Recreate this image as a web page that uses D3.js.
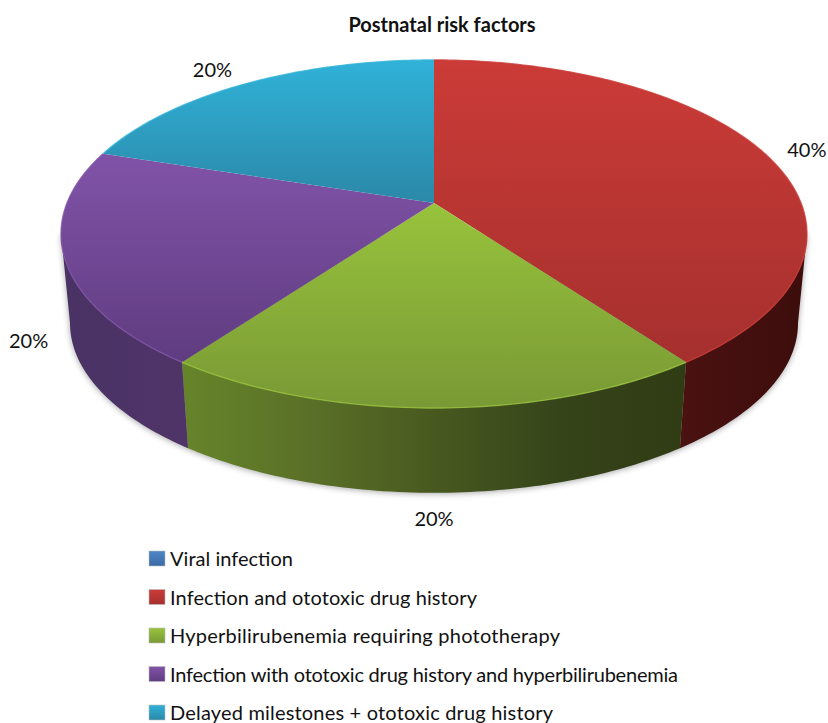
<!DOCTYPE html>
<html>
<head>
<meta charset="utf-8">
<script src="https://cdn.jsdelivr.net/npm/d3@7"></script>
<style>
  html, body { margin: 0; padding: 0; background: #fff; }
  text { font-family: Lato, "Open Sans", sans-serif; fill: #111; }
</style>
</head>
<body>
<svg id="chart" width="828" height="723"></svg>
<script>
const title = "Postnatal risk factors";
const categories = [
  "Viral infection",
  "Infection and ototoxic drug history",
  "Hyperbilirubenemia requiring phototherapy",
  "Infection with ototoxic drug history and hyperbilirubenemia",
  "Delayed milestones + ototoxic drug history"
];
const percents = [0, 40, 20, 20, 20];
const topColors = [["#4f86c6", "#3a6aa5"], ["#cb3b37", "#a5302e"], ["#98c33c", "#799935"], ["#8153a8", "#5f3c80"], ["#30b2d8", "#2b88a8"]];
const wallColors = [
  ["#2a4a75", "#1c3250"],
  ["#4a1211", "#3c0d0c"],
  ["#66852a", "#5a7027", "#48591f", "#36441a", "#303c14"],
  ["#4a3265", "#4f3468"],
  ["#1f7b98", "#1f7b98"]
];

const width = 828, height = 723;
const svg = d3.select("#chart");
const defs = svg.append("defs");

// pie is seen in perspective, so the centre sits above the middle of the ellipse
const cx = 434, cy = 234;
const persp = {a: 367, b: 174, c: -31, p: 0.178};
const bottom = {scale: 0.976, dy: 89};

function project(angle) {
  const u = Math.sin(angle), v = -Math.cos(angle);
  const w = 1 - persp.p * v;
  return [persp.a * u / w, (persp.b * v + persp.c) / w];
}
const topPoint = a => { const p = project(a); return [cx + p[0], cy + p[1]]; };
const lowPoint = a => { const p = project(a); return [cx + p[0] * bottom.scale, cy + bottom.dy + p[1] * bottom.scale]; };
const apex = [cx, cy + persp.c];

const line = d3.line();
const arcAngles = (a0, a1) => {
  const n = Math.max(2, Math.ceil((a1 - a0) * 60));
  return d3.range(n + 1).map(i => a0 + (a1 - a0) * i / n);
};

const pie = d3.pie().sort(null).value(d => d)(percents);

function linearGrad(id, colors, horizontal) {
  const g = defs.append("linearGradient").attr("id", id)
    .attr("x1", 0).attr("y1", 0)
    .attr("x2", horizontal ? 1 : 0).attr("y2", horizontal ? 0 : 1);
  colors.forEach((c, i) => g.append("stop").attr("offset", i / (colors.length - 1)).attr("stop-color", c));
}
categories.forEach((c, i) => {
  linearGrad("top" + i, topColors[i], false);
  linearGrad("wall" + i, wallColors[i], true);
});
defs.append("filter").attr("id", "soft").attr("x", "-10%").attr("y", "-10%").attr("width", "120%").attr("height", "120%")
  .append("feGaussianBlur").attr("stdDeviation", 3);
defs.append("filter").attr("id", "tiny").append("feGaussianBlur").attr("stdDeviation", 0.5);

// the wall is only seen between the two widest points of the rim
const frontStart = Math.acos(-persp.p);
const frontEnd = 2 * Math.PI - frontStart;

const slices = pie.filter(d => d.value > 0);
const walls = slices
  .map(d => ({index: d.index, a0: Math.max(d.startAngle, frontStart), a1: Math.min(d.endAngle, frontEnd)}))
  .filter(d => d.a1 > d.a0);

// soft shadow behind the side wall
svg.append("path")
  .attr("d", line(arcAngles(frontStart, frontEnd).map(lowPoint).concat([topPoint(frontEnd), topPoint(frontStart)])) + "Z")
  .attr("transform", "translate(0,1)")
  .attr("fill", "#000").attr("opacity", 0.35).attr("filter", "url(#soft)");

svg.append("g").selectAll("path").data(walls).join("path")
  .attr("d", d => {
    const angles = arcAngles(d.a0, d.a1);
    return line(angles.map(topPoint).concat(angles.slice().reverse().map(lowPoint))) + "Z";
  })
  .attr("fill", d => `url(#wall${d.index})`);

svg.append("g").selectAll("path").data(slices).join("path")
  .attr("d", d => line([apex].concat(arcAngles(d.startAngle, d.endAngle).map(topPoint))) + "Z")
  .attr("fill", d => `url(#top${d.index})`);

// thin light edge along the rim
svg.append("g").selectAll("path").data(slices).join("path")
  .attr("d", d => line(arcAngles(d.startAngle, d.endAngle).map(topPoint)))
  .attr("fill", "none")
  .attr("stroke", d => topColors[d.index][0])
  .attr("stroke-width", 1.4)
  .attr("opacity", 0.8)
  .attr("filter", "url(#tiny)");

svg.append("text")
  .attr("x", 442).attr("y", 32)
  .attr("text-anchor", "middle")
  .attr("font-size", 20).attr("font-weight", 700)
  .text(title);

// label nudges from the rim point at each slice's middle angle
const labelNudge = [[0, 0], [42, 3], [0, 118], [-36, 90], [-33, -7]];
svg.append("g").selectAll("text").data(slices).join("text")
  .attr("x", d => topPoint((d.startAngle + d.endAngle) / 2)[0] + labelNudge[d.index][0])
  .attr("y", d => topPoint((d.startAngle + d.endAngle) / 2)[1] + labelNudge[d.index][1])
  .attr("text-anchor", "middle")
  .attr("font-size", 20)
  .text(d => d.value + "%");

const legendY = d3.scalePoint().domain(categories).range([559, 713]);
const legendTextWidth = [123, 307, 390, 508, 383];
const legend = svg.append("g").selectAll("g").data(categories).join("g")
  .attr("transform", d => `translate(149,${legendY(d)})`);
legend.append("rect")
  .attr("x", 0).attr("y", -8).attr("width", 16).attr("height", 15)
  .attr("fill", (d, i) => `url(#top${i})`)
  .attr("stroke", "#bbb").attr("stroke-width", 0.6);
legend.append("text")
  .attr("x", 21).attr("y", 7)
  .attr("font-size", 20)
  .attr("textLength", (d, i) => legendTextWidth[i])
  .attr("lengthAdjust", "spacing")
  .text(d => d);
</script>
</body>
</html>
